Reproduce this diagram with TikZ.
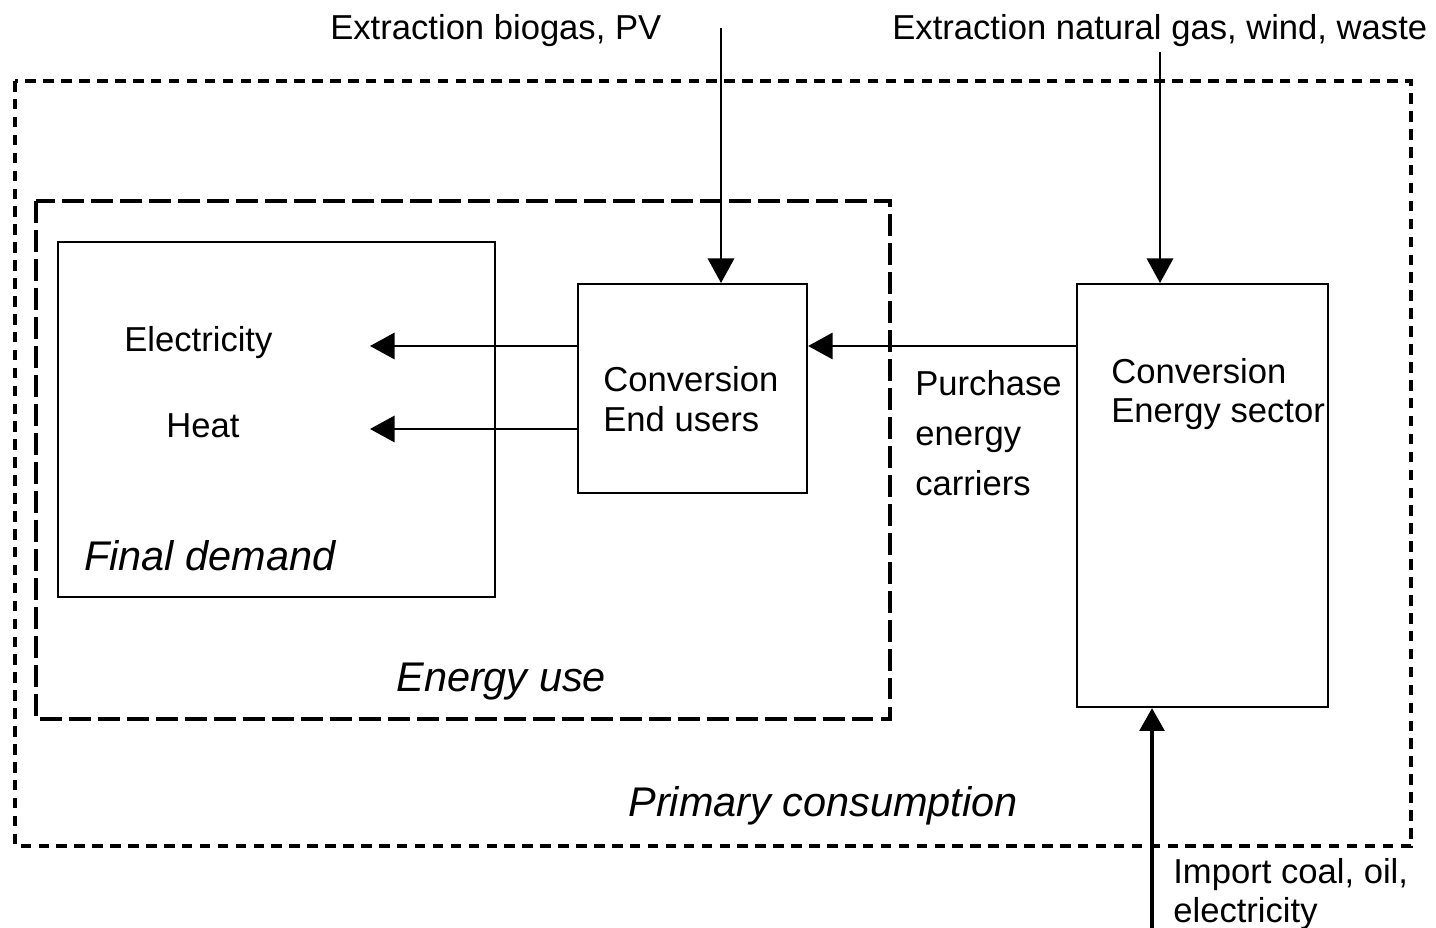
\documentclass[tikz,border=0pt]{standalone}
\usepackage{fontspec}
\setmainfont{Liberation Sans}
\usetikzlibrary{arrows.meta}
\begin{document}
\begin{tikzpicture}[x=0.02cm,y=-0.02cm,
  txt/.style={inner sep=0pt,font=\fontsize{19.7}{22.5}\selectfont,align=left},
  itxt/.style={inner sep=0pt,font=\fontsize{23.6}{27}\selectfont\itshape},
  solidbox/.style={draw,line width=1.2pt},
  outerdash/.style={draw,line width=2.2pt,dash pattern=on 6pt off 4.2pt},
  innerdash/.style={draw,line width=2.2pt,dash pattern=on 12.5pt off 4pt},
  flow/.style={line width=1.3pt,-{Triangle[length=14pt,width=15pt]}},
  bigflow/.style={line width=2.3pt,-{Triangle[length=13pt,width=14pt]}}]
\useasboundingbox (0,0) rectangle (1436,928);
% containers
\draw[outerdash] (15,81) rectangle (1411,846);
\draw[innerdash] (36,201) rectangle (890,719);
\node[solidbox,minimum width=437*0.02cm,minimum height=355*0.02cm,anchor=north west,inner sep=0pt] (fd) at (57,241) {};
\node[solidbox,minimum width=229*0.02cm,minimum height=209*0.02cm,anchor=north west,inner sep=0pt] (eu) at (577,283) {};
\node[solidbox,minimum width=251*0.02cm,minimum height=423*0.02cm,anchor=north west,inner sep=0pt] (es) at (1076,283) {};
% texts
\node[txt,anchor=west] (tbio) at (330,31) {Extraction biogas, PV};
\node[txt,anchor=west] (tnat) at (892,31) {Extraction natural gas, wind, waste};
\node[txt,anchor=west] (tel) at (124,343) {Electricity};
\node[txt,anchor=west] (tht) at (166,426) {Heat};
\node[itxt,anchor=west] (tfd) at (84,556) {Final demand};
\node[txt,anchor=west] (teu) at (603,399) {Conversion\\End users};
\node[txt,anchor=west,font=\fontsize{19.7}{28.3}\selectfont] (tpu) at (915,433) {Purchase\\energy\\carriers};
\node[txt,anchor=west] (tes) at (1111,394) {Conversion\\Energy sector};
\node[itxt,anchor=west] (tuse) at (396,682) {Energy use};
\node[itxt,anchor=west] (tpc) at (628,806) {Primary consumption};
\node[txt,anchor=west] (timp) at (1173,894) {Import coal, oil,\\electricity};
% connectors
\coordinate (elend) at (370,346);
\coordinate (htend) at (370,429);
\coordinate (topA) at (721,28);
\coordinate (topB) at (1160,52);
\coordinate (botC) at (1152,928);
\draw[flow] (eu.west |- elend) -- (elend);
\draw[flow] (eu.west |- htend) -- (htend);
\draw[flow] (es.west |- elend) -- (eu.east |- elend);
\draw[flow] (topA) -- (topA |- eu.north);
\draw[flow] (topB) -- (topB |- es.north);
\draw[bigflow] (botC) -- (botC |- es.south);
\end{tikzpicture}
\end{document}
